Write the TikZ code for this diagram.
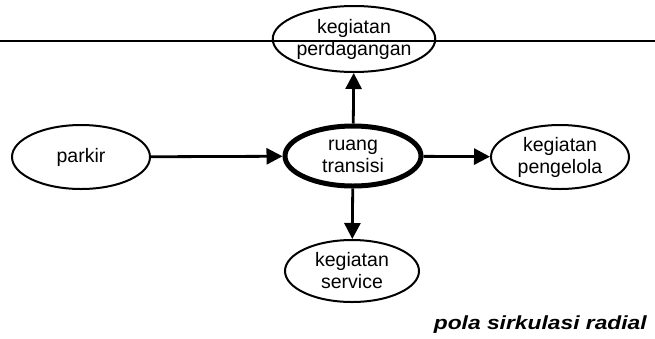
\documentclass[tikz,border=0pt]{standalone}
\usepackage{fontspec}
\setmainfont{Liberation Sans}
\usetikzlibrary{shapes.geometric,arrows.meta}
\begin{document}
\begin{tikzpicture}[x=1pt,y=-1pt,
  ell/.style={ellipse,draw,line width=2pt,minimum width=#1,inner sep=0pt,font=\fontsize{19.5}{22}\selectfont,align=center},
  ell/.default=138pt,
  conn/.style={line width=2.8pt,-{Triangle[length=16pt,width=16pt]}}]
\useasboundingbox (0,0) rectangle (655,338);
\coordinate (L) at (0,41);
\coordinate (R) at (655,41);
\draw[line width=2.2pt] (L) -- (R);
\node[ell, minimum height=66pt] (dag) at (354,39) {kegiatan\\perdagangan};
\node[ell, minimum height=64pt] (par) at (81,157) {parkir};
\node[ell, minimum height=60pt, line width=5pt, minimum width=136pt] (rua) at (353,156) {ruang\\transisi};
\node[ell, minimum height=64pt] (pen) at (560,157) {kegiatan\\pengelola};
\node[ell, minimum height=62pt, minimum width=134pt] (ser) at (352,271) {kegiatan\\service};
\draw[conn] (par) -- (rua);
\draw[conn] (rua) -- (pen);
\draw[conn] (rua) -- (dag);
\draw[conn] (rua) -- (ser);
\node[anchor=base east, font=\fontsize{19}{22}\selectfont\bfseries\itshape, xscale=1.2] (cap) at (651,329) {pola sirkulasi radial};
\end{tikzpicture}
\end{document}
